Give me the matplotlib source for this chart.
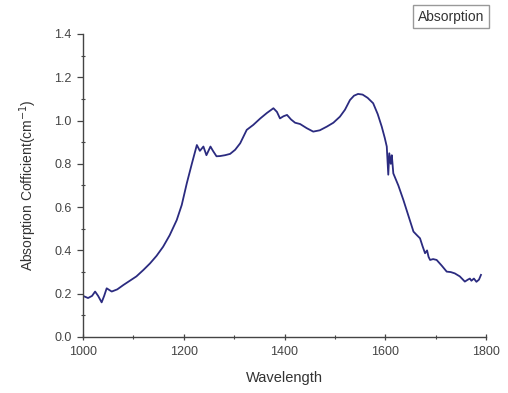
import matplotlib
matplotlib.use("Agg")
import matplotlib.pyplot as plt
from matplotlib.ticker import MultipleLocator

plt.rcParams['font.family'] = ['Liberation Sans', 'DejaVu Sans']

# wavelength (nm) and absorption coefficient
wavelength = [1000, 1010, 1018, 1024, 1030, 1037, 1042, 1047, 1057, 1068, 1080, 1093,
              1106, 1120, 1133, 1146, 1159, 1172, 1186, 1196, 1206, 1216, 1226, 1232,
              1239, 1245, 1253, 1258, 1265, 1272, 1282, 1292, 1302, 1312, 1325, 1338,
              1352, 1365, 1378, 1385, 1391, 1398, 1405, 1413, 1421, 1431, 1444, 1457,
              1470, 1484, 1497, 1510, 1520, 1530, 1538, 1546, 1555, 1565, 1576, 1585,
              1593, 1599, 1603, 1606, 1608, 1611, 1613, 1616, 1626, 1636, 1646, 1656,
              1663, 1669, 1674, 1679, 1683, 1686, 1689, 1695, 1702, 1712, 1722, 1730,
              1738, 1748, 1758, 1764, 1768, 1771, 1776, 1781, 1786, 1790]
absorption = [0.19, 0.18, 0.19, 0.21, 0.19, 0.16, 0.19, 0.225, 0.21, 0.22, 0.24, 0.26,
              0.28, 0.31, 0.34, 0.375, 0.417, 0.47, 0.54, 0.61, 0.71, 0.80, 0.887, 0.86,
              0.88, 0.84, 0.88, 0.86, 0.835, 0.836, 0.84, 0.846, 0.865, 0.895, 0.957, 0.98,
              1.01, 1.035, 1.057, 1.04, 1.01, 1.02, 1.026, 1.005, 0.99, 0.984, 0.965, 0.949,
              0.955, 0.972, 0.99, 1.018, 1.05, 1.095, 1.115, 1.123, 1.12, 1.105, 1.08, 1.03,
              0.972, 0.92, 0.88, 0.75, 0.849, 0.80, 0.84, 0.756, 0.70, 0.633, 0.56, 0.487,
              0.47, 0.456, 0.42, 0.387, 0.40, 0.37, 0.356, 0.36, 0.356, 0.33, 0.302, 0.30,
              0.294, 0.28, 0.256, 0.265, 0.27, 0.26, 0.27, 0.255, 0.265, 0.287]

fig = plt.figure(figsize=(5.08, 3.93), dpi=100)
ax = fig.add_axes([0.1634, 0.1425, 0.7933, 0.771])

ax.plot(wavelength, absorption, color='#2b2b80', linewidth=1.3)

ax.set_xlim(1000, 1800)
ax.set_ylim(0.0, 1.4)
ax.xaxis.set_major_locator(MultipleLocator(200))
ax.xaxis.set_minor_locator(MultipleLocator(100))
ax.yaxis.set_major_locator(MultipleLocator(0.2))
ax.yaxis.set_minor_locator(MultipleLocator(0.1))
ax.yaxis.set_major_formatter(plt.FormatStrFormatter('%.1f'))

for side in ['top', 'right']:
    ax.spines[side].set_visible(False)
for side in ['left', 'bottom']:
    ax.spines[side].set_color('#444444')
    ax.spines[side].set_linewidth(1.0)

ax.tick_params(axis='x', which='major', direction='inout', length=5, width=0.9,
               labelsize=9, colors='#444444', pad=4)
ax.tick_params(axis='x', which='minor', direction='inout', length=3, width=0.8, colors='#444444')
ax.tick_params(axis='y', which='major', direction='out', length=4, width=0.9,
               labelsize=9, colors='#444444', pad=4)
ax.tick_params(axis='y', which='minor', direction='inout', length=3, width=0.8, colors='#444444')

ax.set_xlabel('Wavelength', fontsize=10.5, color='#333333', labelpad=9)
ax.set_ylabel('Absorption Cofficient(cm$^{-1}$)', fontsize=10, color='#333333', labelpad=11)

fig.text(0.8885, 0.958, 'Absorption', fontsize=10, color='#333333', ha='center', va='center',
         bbox=dict(boxstyle='square,pad=0.35', facecolor='white', edgecolor='#999999', linewidth=1.0))

fig.savefig('out.png', dpi=100)
